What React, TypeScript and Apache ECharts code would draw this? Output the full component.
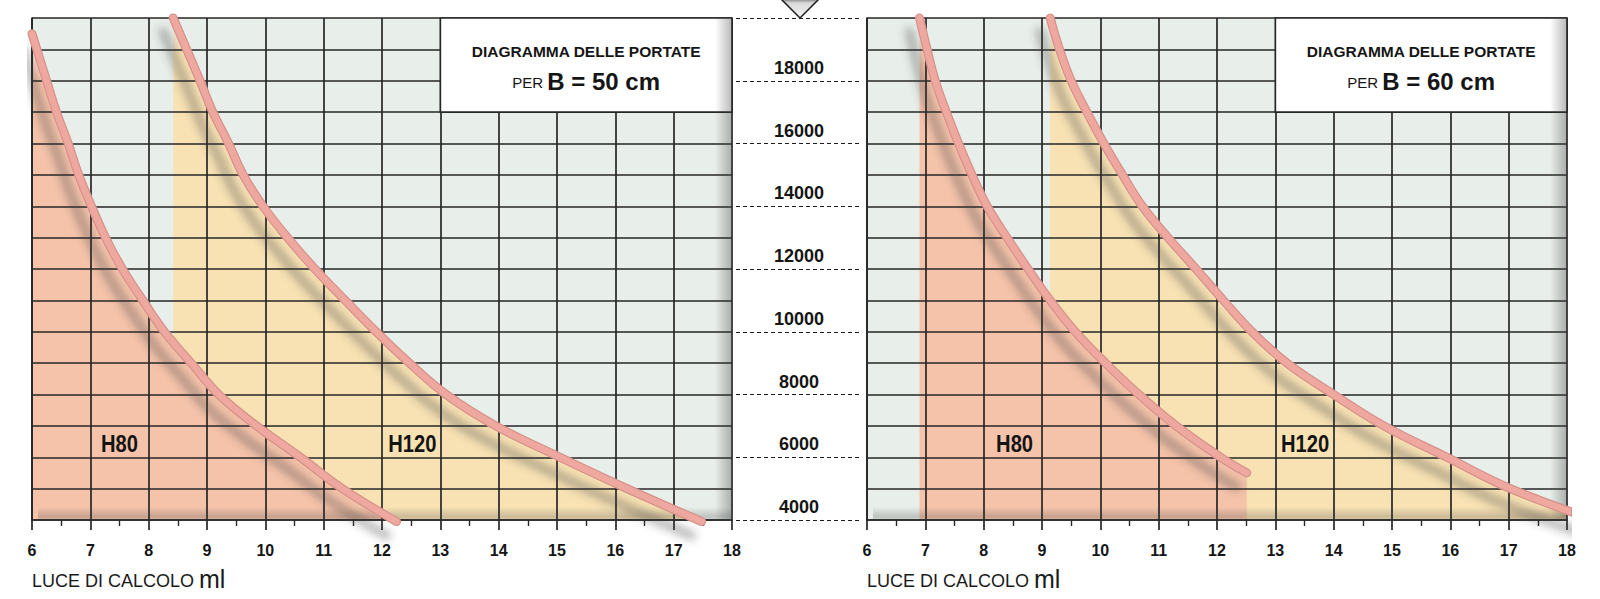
import React, { useEffect, useRef } from 'react';
import * as echarts from 'echarts';

// ---------- data ----------
const xMin = 6;
const xMax = 18;
const yMin = 4000;
const yMax = 20000;
const yLabelStep = 2000;

const panelTitles = ['B = 50 cm', 'B = 60 cm'];
const titleLine1 = 'DIAGRAMMA DELLE PORTATE';
const titlePrefix = 'PER ';
const axisTitle = 'LUCE DI CALCOLO ';
const axisUnit = 'ml';
const curveNames = ['H80', 'H120'];

// title box covers x 13..18, y 17000..20000
const boxXFrom = 13;
const boxYFrom = 17000;

// B = 50 cm
const h80B50: [number, number][] = [
  [6.0, 19500], [6.25, 18000], [6.42, 17000], [6.62, 16000], [6.8, 15000],
  [7.02, 14000], [7.26, 13000], [7.55, 12000], [7.9, 11000], [8.27, 10000],
  [8.73, 9000], [9.2, 8000], [9.85, 7000], [10.6, 6000], [11.32, 5000],
  [12.25, 3950],
];
const h120B50: [number, number][] = [
  [8.42, 20000], [8.88, 18000], [9.1, 17000], [9.37, 16000], [9.62, 15000],
  [9.96, 14000], [10.38, 13000], [10.85, 12000], [11.37, 11000], [11.9, 10000],
  [12.47, 9000], [13.1, 8000], [13.95, 7000], [15.05, 6000], [16.2, 5000],
  [17.48, 3950],
];
// B = 60 cm
const h80B60: [number, number][] = [
  [6.9, 20000], [7.03, 19000], [7.17, 18000], [7.36, 17000], [7.57, 16000],
  [7.8, 15000], [8.06, 14000], [8.4, 13000], [8.76, 12000], [9.14, 11000],
  [9.57, 10000], [10.09, 9000], [10.66, 8000], [11.3, 7000], [12.06, 6000],
  [12.51, 5500],
];
const h120B60: [number, number][] = [
  [9.14, 20000], [9.3, 19000], [9.5, 18000], [9.77, 17000], [10.06, 16000],
  [10.38, 15000], [10.72, 14000], [11.16, 13000], [11.64, 12000], [12.11, 11000],
  [12.6, 10000], [13.2, 9000], [14.0, 8000], [14.86, 7000], [15.94, 6000],
  [17.03, 5000], [18.55, 3950],
];
// curve label anchors
const labelPosB50: [number, number][] = [[7.5, 6430], [12.52, 6430]];
const labelPosB60: [number, number][] = [[8.53, 6430], [13.51, 6430]];

const panels = [
  { h80: h80B50, h120: h120B50, labels: labelPosB50, title: panelTitles[0] },
  { h80: h80B60, h120: h120B60, labels: labelPosB60, title: panelTitles[1] },
];

// ---------- style ----------
const FONT = '"Liberation Sans", Arial, Helvetica, sans-serif';
const INK = '#262626';
const GRID_BG = '#e8eeea';
const ORANGE = '245,195,170';
const YELLOW = '248,226,180';

const gridRects = [
  { left: 32, top: 18, width: 700, height: 502 },
  { left: 867, top: 18, width: 700, height: 502 },
];
const midGrid = { left: 736, top: 18, width: 124, height: 502 };

function fadeFill(rgb: string, fade: number) {
  return new echarts.graphic.LinearGradient(0, 0, 0, 1, [
    { offset: 0, color: `rgba(${rgb},0.05)` },
    { offset: fade, color: `rgba(${rgb},1)` },
    { offset: 1, color: `rgba(${rgb},1)` },
  ]);
}

function buildOption() {
  const grid: any[] = gridRects.map((g) => ({
    ...g,
    show: true,
    backgroundColor: GRID_BG,
    borderWidth: 0,
  }));
  grid.push({ ...midGrid, show: false });

  const xAxis: any[] = gridRects.map((_, i) => ({
    gridIndex: i,
    type: 'value',
    min: xMin,
    max: xMax,
    interval: 1,
    z: 3,
    axisLine: { show: true, onZero: false, lineStyle: { color: INK, width: 1.7 } },
    axisTick: { show: true, length: 10, lineStyle: { color: INK, width: 1.7 } },
    minorTick: { show: true, splitNumber: 2, length: 6, lineStyle: { color: INK, width: 1.4 } },
    minorSplitLine: { show: false },
    axisLabel: {
      fontSize: 16, fontWeight: 'bold', color: '#151515', margin: 22, fontFamily: FONT,
    },
    splitLine: { show: true, lineStyle: { color: INK, width: 1.7 } },
  }));
  xAxis.push({ gridIndex: 2, type: 'value', show: false, min: 0, max: 1 });

  const yAxis: any[] = gridRects.map((_, i) => ({
    gridIndex: i,
    type: 'value',
    min: yMin,
    max: yMax,
    interval: 1000,
    z: 3,
    axisLine: { show: true, lineStyle: { color: INK, width: 1.7 } },
    axisTick: { show: false },
    axisLabel: { show: false },
    splitLine: { show: true, lineStyle: { color: INK, width: 1.7 } },
  }));
  yAxis.push({
    gridIndex: 2,
    type: 'value',
    min: yMin,
    max: yMax,
    interval: yLabelStep,
    axisLine: { show: false },
    axisTick: { show: false },
    splitLine: { show: true, lineStyle: { color: '#1e1e1e', width: 1, type: [4, 3] } },
    axisLabel: {
      inside: true,
      align: 'center',
      verticalAlign: 'bottom',
      margin: 63,
      padding: [0, 0, 4, 0],
      fontSize: 18,
      fontWeight: 'bold',
      color: '#151515',
      fontFamily: FONT,
      formatter: (v: number) => (v >= yMax ? '' : String(v)),
    },
  });

  const series: any[] = [];
  panels.forEach((p, i) => {
    const common = {
      type: 'line',
      xAxisIndex: i,
      yAxisIndex: i,
      smooth: 0.4,
      symbol: 'none',
      silent: true,
    };
    // fills
    series.push({
      ...common,
      name: `${curveNames[1]} area ${i}`,
      data: p.h120,
      z: 2,
      clip: true,
      lineStyle: { width: 0 },
      areaStyle: { origin: 'start', opacity: 1, color: fadeFill(YELLOW, 0.07) },
    });
    series.push({
      ...common,
      name: `${curveNames[0]} area ${i}`,
      data: p.h80,
      z: 2,
      clip: true,
      lineStyle: { width: 0 },
      areaStyle: { origin: 'start', opacity: 1, color: fadeFill(ORANGE, 0.1) },
    });
    // curves (outer + highlight)
    [p.h80, p.h120].forEach((d, k) => {
      series.push({
        ...common,
        name: curveNames[k],
        data: d,
        z: 6,
        clip: false,
        lineStyle: {
          width: 9,
          color: '#d6928a',
          cap: 'round',
          join: 'round',
          shadowColor: 'rgba(60,60,60,0.36)',
          shadowBlur: 9,
          shadowOffsetX: -10,
          shadowOffsetY: 14,
        },
      });
      series.push({
        ...common,
        name: curveNames[k] + ' hl',
        data: d,
        z: 7,
        clip: false,
        lineStyle: { width: 6.5, color: '#eea89f', cap: 'round', join: 'round' },
      });
    });
  });

  return {
    animation: false,
    backgroundColor: '#ffffff',
    grid,
    xAxis,
    yAxis,
    series,
  };
}

export default function App() {
  const ref = useRef<HTMLDivElement>(null);
  useEffect(() => {
    document.body.style.margin = '0';
    const chart = echarts.init(ref.current!, null, { renderer: 'svg' });
    chart.setOption(buildOption());

    const graphics: any[] = [];
    panels.forEach((p, i) => {
      const toPx = (v: number[]) => chart.convertToPixel({ gridIndex: i } as any, v) as number[];
      const tl = toPx([boxXFrom, yMax]);
      const br = toPx([xMax, boxYFrom]);
      const g0 = toPx([xMin, yMin]);
      const cx = (tl[0] + br[0]) / 2;
      // title box
      graphics.push({
        type: 'rect',
        z: 4,
        silent: true,
        shape: { x: tl[0], y: tl[1], width: br[0] - tl[0], height: br[1] - tl[1] },
        style: { fill: '#ffffff', stroke: INK, lineWidth: 1.7 },
      });
      graphics.push({
        type: 'text',
        z: 6,
        silent: true,
        x: cx,
        y: tl[1] + 33,
        style: {
          text: titleLine1,
          fontSize: 15.5,
          fontWeight: 'bold',
          fontFamily: FONT,
          fill: '#151515',
          align: 'center',
          verticalAlign: 'middle',
        },
      });
      graphics.push({
        type: 'text',
        z: 6,
        silent: true,
        x: cx,
        y: tl[1] + 63,
        style: {
          text: `{a|${titlePrefix}}{b|${p.title}}`,
          align: 'center',
          verticalAlign: 'middle',
          rich: {
            a: { fontSize: 15, fontFamily: FONT, fill: '#151515', verticalAlign: 'bottom', lineHeight: 15, padding: [0, 0, 3, 0] },
            b: { fontSize: 24, fontWeight: 'bold', fontFamily: FONT, fill: '#151515', verticalAlign: 'bottom', lineHeight: 24 },
          },
        },
      });
      // curve labels
      p.labels.forEach((pos, k) => {
        const px = toPx(pos);
        graphics.push({
          type: 'text',
          z: 8,
          silent: true,
          x: px[0],
          y: px[1],
          scaleX: 0.84,
          style: {
            text: curveNames[k],
            fontSize: 24,
            fontWeight: 'bold',
            fontFamily: FONT,
            fill: '#141414',
            align: 'center',
            verticalAlign: 'middle',
          },
        });
      });
      // inner shadows on the right and bottom of the panel
      graphics.push({
        type: 'rect',
        z: 5,
        silent: true,
        shape: { x: br[0] - 17, y: tl[1], width: 17, height: g0[1] - tl[1] },
        style: {
          fill: new echarts.graphic.LinearGradient(0, 0, 1, 0, [
            { offset: 0, color: 'rgba(60,60,60,0)' },
            { offset: 1, color: 'rgba(60,60,60,0.36)' },
          ]),
        },
      });
      graphics.push({
        type: 'rect',
        z: 5,
        silent: true,
        shape: { x: g0[0] + 6, y: g0[1] - 13, width: br[0] - g0[0] - 6, height: 13 },
        style: {
          fill: new echarts.graphic.LinearGradient(0, 0, 0, 1, [
            { offset: 0, color: 'rgba(60,60,60,0)' },
            { offset: 0.75, color: 'rgba(60,60,60,0.24)' },
            { offset: 1, color: 'rgba(60,60,60,0.12)' },
          ]),
        },
      });
      // axis title
      graphics.push({
        type: 'text',
        z: 6,
        silent: true,
        x: g0[0],
        y: 591,
        style: {
          text: `{a|${axisTitle}}{b|${axisUnit}}`,
          align: 'left',
          verticalAlign: 'bottom',
          rich: {
            a: { fontSize: 18, fontFamily: FONT, fill: '#1a1a1a', verticalAlign: 'bottom', lineHeight: 18, padding: [0, 0, 1, 0] },
            b: { fontSize: 25, fontFamily: FONT, fill: '#1a1a1a', verticalAlign: 'bottom', lineHeight: 25 },
          },
        },
      });
    });
    // marker triangle at the top of the value scale
    const apex = chart.convertToPixel({ gridIndex: 2 } as any, [0.5, yMax]) as number[];
    graphics.push({
      type: 'polygon',
      z: 6,
      silent: true,
      shape: { points: [[780, -2], [820, -2], [800, apex[1]]] },
      style: {
        fill: new echarts.graphic.LinearGradient(0, 0, 0, 1, [
          { offset: 0, color: '#6a6a6a' },
          { offset: 0.25, color: '#d8d8d8' },
          { offset: 1, color: '#f6f6f6' },
        ]),
        stroke: '#1e1e1e',
        lineWidth: 1.5,
      },
    });
    chart.setOption({ graphic: graphics });
    return () => chart.dispose();
  }, []);
  return <div ref={ref} style={{ width: 1600, height: 599 }} />;
}
